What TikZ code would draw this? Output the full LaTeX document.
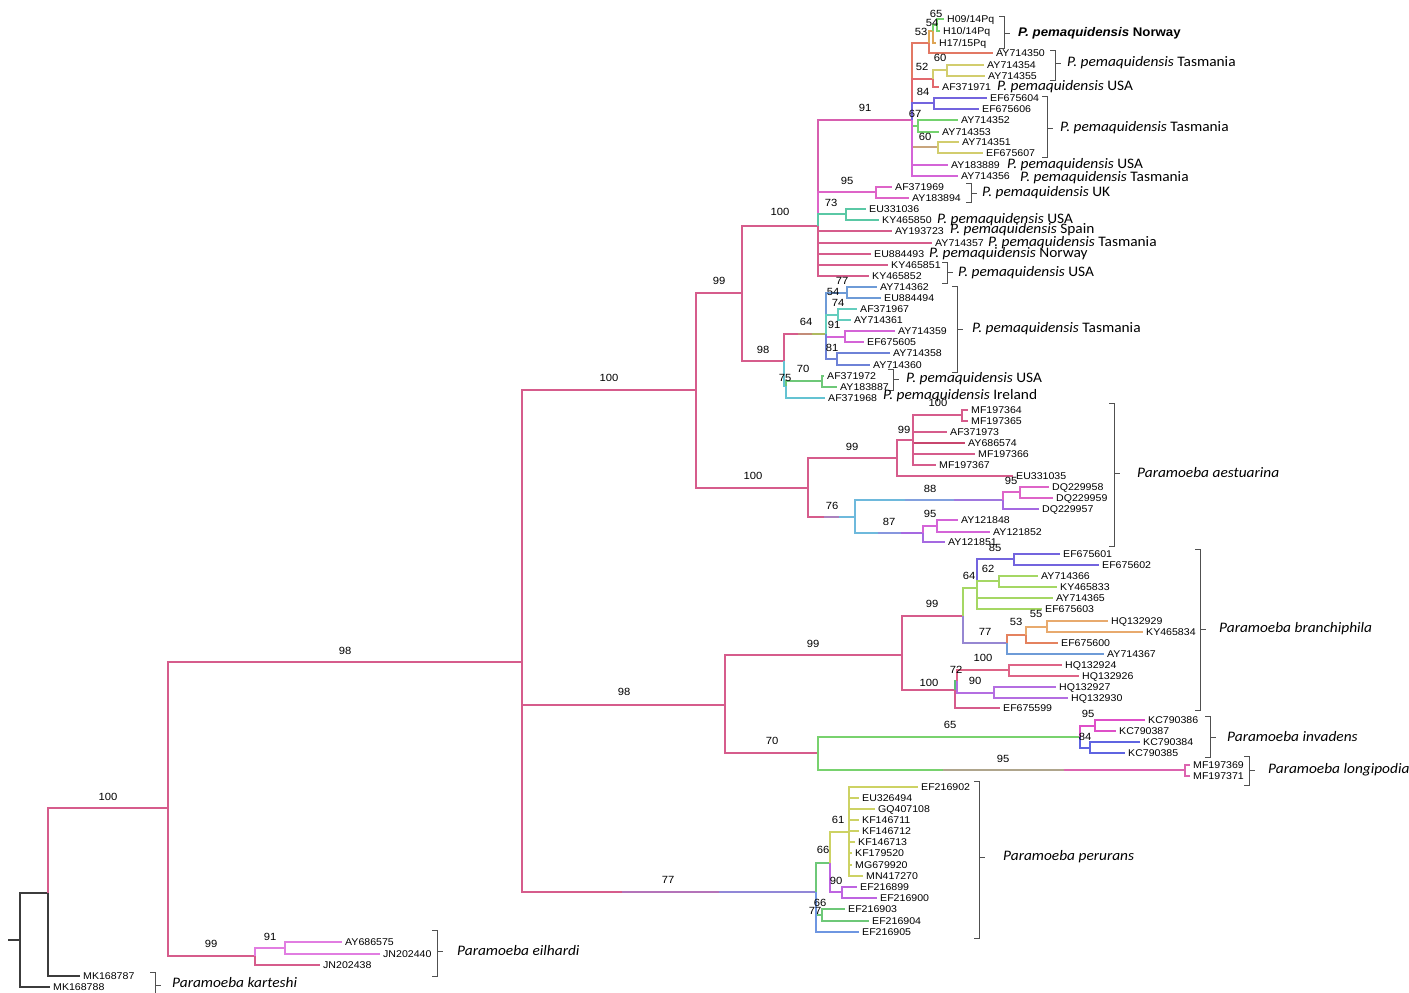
\documentclass[tikz,border=0pt]{standalone}
\usepackage{fontspec}
\setmainfont{Liberation Sans}
\newfontfamily\accf[FakeStretch=1.08]{Liberation Sans}
\newfontfamily\spf[FakeStretch=1.06]{Carlito}
\newfontfamily\bldf[FakeStretch=1.06]{Liberation Sans}
\usetikzlibrary{calc}
\definecolor{cpk}{RGB}{214,92,140}
\definecolor{crt}{RGB}{60,60,60}
\definecolor{cmg}{RGB}{225,125,225}
\definecolor{cmpk}{RGB}{215,95,175}
\definecolor{cmgp}{RGB}{222,100,200}
\definecolor{ctl}{RGB}{90,200,165}
\definecolor{corr}{RGB}{226,120,100}
\definecolor{csal}{RGB}{226,105,110}
\definecolor{cpu}{RGB}{115,100,222}
\definecolor{cgr}{RGB}{115,210,110}
\definecolor{ctan}{RGB}{200,165,125}
\definecolor{cmg2}{RGB}{212,100,215}
\definecolor{coy}{RGB}{222,165,85}
\definecolor{cyl}{RGB}{210,205,110}
\definecolor{c64a}{RGB}{195,140,120}
\definecolor{c64b}{RGB}{175,185,95}
\definecolor{ccy}{RGB}{100,195,210}
\definecolor{clb}{RGB}{110,155,215}
\definecolor{ctl2}{RGB}{100,205,190}
\definecolor{csb}{RGB}{110,130,215}
\definecolor{cgn2}{RGB}{110,200,120}
\definecolor{c76b}{RGB}{170,130,190}
\definecolor{ccy2}{RGB}{110,185,220}
\definecolor{c88b}{RGB}{130,160,222}
\definecolor{c88c}{RGB}{160,120,222}
\definecolor{c87b}{RGB}{135,150,222}
\definecolor{cpu2}{RGB}{165,105,225}
\definecolor{clg}{RGB}{165,215,100}
\definecolor{c77br}{RGB}{150,135,210}
\definecolor{cor2}{RGB}{228,130,95}
\definecolor{cor3}{RGB}{232,170,110}
\definecolor{cgn3}{RGB}{90,190,120}
\definecolor{cpk2}{RGB}{222,100,135}
\definecolor{cpu3}{RGB}{180,110,225}
\definecolor{cgn}{RGB}{120,210,110}
\definecolor{c95b}{RGB}{175,165,140}
\definecolor{cpk3}{RGB}{220,100,175}
\definecolor{cmg3}{RGB}{222,80,200}
\definecolor{cbl}{RGB}{95,100,225}
\definecolor{cbl2}{RGB}{110,150,225}
\definecolor{c77pa}{RGB}{180,115,185}
\definecolor{c77pb}{RGB}{145,135,215}
\definecolor{cyl2}{RGB}{205,210,100}
\definecolor{cpu4}{RGB}{190,100,225}
\definecolor{cpkd}{RGB}{200,70,110}
\definecolor{cbrk}{RGB}{80,80,80}
\newcommand\lf[6]{\node[leaf] (#3) at (#4,#5) {#6};\draw[br,#1] (#2) |- (#3.west);}
\newcommand\cn[5]{\coordinate (#3) at (#4,#5);\draw[br,#1] (#2) |- (#3);}
\newcommand\gcn[7]{%
 \coordinate (#5) at (#6,#7);
 \coordinate (#5-a) at ($(#4 |- #5)!0.34!(#5)$);
 \coordinate (#5-b) at ($(#4 |- #5)!0.67!(#5)$);
 \draw[br,#1] (#4) |- (#5-a);
 \draw[br,#2] (#5-a) -- (#5-b);
 \draw[br,#3] (#5-b) -- (#5);}
\newcounter{bsn}
\newcommand\bs[3]{\stepcounter{bsn}\node[boot] (bs\thebsn) at (#1,#2) {#3};}
\newcounter{spn}
\newcommand\spl[3]{\stepcounter{spn}\node[spec] (sp\thespn) at (#1,#2) {#3};}
\newcommand\brak[4]{\draw[brk] (#1-5,#2) -- (#1,#2) -- (#1,#3) -- (#1-5,#3); \draw[brk] (#1,#4) -- (#1+6,#4);}
\newcommand\pp{\textit{P. pemaquidensis}}
\begin{document}
\begin{tikzpicture}[x=1pt,y=-1pt,
 br/.style={line width=1.2pt},
 leaf/.style={anchor=west, inner xsep=3pt, inner ysep=0pt, text height=7pt, text depth=0pt, font=\accf\fontsize{9.8}{10}\selectfont},
 boot/.style={inner sep=0pt, font=\accf\fontsize{10.4}{11}\selectfont},
 spec/.style={anchor=west, inner sep=0pt, font=\spf\fontsize{14.5}{15}\selectfont},
 brk/.style={draw=cbrk, line width=0.9pt}]
\useasboundingbox (0,0) rectangle (1409,993);
% root
\coordinate (stub) at (8,940);
\coordinate (r) at (20,940);
\draw[br,crt] (stub) -- (r);
\cn{crt}{r}{nA}{48}{893}
\lf{crt}{r}{mk88}{50}{987}{MK168788}
\cn{cpk}{nA}{n100a}{168}{808}
\lf{crt}{nA}{mk87}{80}{976}{MK168787}
% eilhardi
\cn{cpk}{n100a}{n99e}{255}{956}
\cn{cmg}{n99e}{n91e}{285}{948}
\lf{cmg}{n91e}{AY686575}{342}{942}{AY686575}
\lf{cmg}{n91e}{JN202440}{380}{954}{JN202440}
\lf{cpk}{n99e}{JN202438}{320}{965}{JN202438}
% backbone
\cn{cpk}{n100a}{n98a}{522}{662}
\cn{cpk}{n98a}{n100b}{696}{390}
\cn{cpk}{n98a}{n98b}{725}{705}
\gcn{cpk}{c77pa}{c77pb}{n98a}{n77p}{816}{892}
\cn{cpk}{n100b}{n99b}{742}{293}
\cn{cpk}{n100b}{n100ae}{808}{488}
\cn{cpk}{n99b}{n100c}{818}{226}
\cn{cpk}{n99b}{n98c}{784}{361}
% pemaquidensis big polytomy
\cn{cmpk}{n100c}{n91}{912}{120}
\cn{cmgp}{n100c}{n95uk}{876}{192}
\cn{ctl}{n100c}{n73}{846}{214}
\lf{cpk}{n100c}{AY193723}{892}{231}{AY193723}
\lf{cpk}{n100c}{AY714357}{932}{243}{AY714357}
\lf{cpk}{n100c}{EU884493}{871}{254}{EU884493}
\lf{cpk}{n100c}{KY465851}{888}{265}{KY465851}
\lf{cpk}{n100c}{KY465852}{869}{276}{KY465852}
\cn{corr}{n91}{n53}{929}{43}
\cn{csal}{n91}{n52}{933}{79}
\cn{cpu}{n91}{n84}{934}{103}
\cn{cgr}{n91}{n67}{918}{126}
\cn{ctan}{n91}{n60b}{938}{147}
\lf{cmg2}{n91}{AY183889}{948}{165}{AY183889}
\lf{cmg2}{n91}{AY714356}{958}{176}{AY714356}
\cn{coy}{n53}{n54}{933}{31}
\lf{corr}{n53}{AY714350}{993}{53}{AY714350}
\cn{cgr}{n54}{n65}{937}{25}
\lf{coy}{n54}{H17}{936}{43}{H17/15Pq}
\lf{cgr}{n65}{H09}{944}{19}{H09/14Pq}
\lf{cgr}{n65}{H10}{940}{31}{H10/14Pq}
\cn{cyl}{n52}{n60a}{947}{70}
\lf{csal}{n52}{AF371971}{939}{87}{AF371971}
\lf{cyl}{n60a}{AY714354}{984}{65}{AY714354}
\lf{cyl}{n60a}{AY714355}{985}{76}{AY714355}
\lf{cpu}{n84}{EF675604}{987}{98}{EF675604}
\lf{cpu}{n84}{EF675606}{979}{109}{EF675606}
\lf{cgr}{n67}{AY714352}{958}{120}{AY714352}
\lf{cgr}{n67}{AY714353}{939}{132}{AY714353}
\lf{cyl}{n60b}{AY714351}{959}{142}{AY714351}
\lf{cyl}{n60b}{EF675607}{983}{153}{EF675607}
\lf{cmgp}{n95uk}{AF371969}{892}{187}{AF371969}
\lf{cmgp}{n95uk}{AY183894}{909}{198}{AY183894}
\lf{ctl}{n73}{EU331036}{866}{209}{EU331036}
\lf{ctl}{n73}{KY465850}{879}{220}{KY465850}
% 98 clade
\gcn{cpk}{c64a}{c64b}{n98c}{n64}{826}{334}
\cn{ccy}{n98c}{n75}{786}{386}
\cn{clb}{n64}{n77b}{847}{293}
\cn{ctl2}{n64}{n91b}{838}{315}
\cn{cmg2}{n64}{nAY59}{845}{337}
\cn{csb}{n64}{n81}{837}{359}
\lf{clb}{n77b}{AY714362}{877}{287}{AY714362}
\lf{clb}{n77b}{EU884494}{881}{298}{EU884494}
\lf{ctl2}{n91b}{AF371967}{857}{309}{AF371967}
\lf{ctl2}{n91b}{AY714361}{851}{320}{AY714361}
\lf{cmg2}{nAY59}{AY714359}{895}{331}{AY714359}
\lf{cmg2}{nAY59}{EF675605}{864}{342}{EF675605}
\lf{csb}{n81}{AY714358}{890}{353}{AY714358}
\lf{csb}{n81}{AY714360}{870}{365}{AY714360}
\cn{cgn2}{n75}{n70}{822}{381}
\lf{ccy}{n75}{AF371968}{825}{398}{AF371968}
\lf{cgn2}{n70}{AF371972}{824}{376}{AF371972}
\lf{cgn2}{n70}{AY183887}{837}{387}{AY183887}
% aestuarina
\cn{cpk}{n100ae}{n99ae}{897}{458}
\gcn{cpk}{c76b}{ccy2}{n100ae}{n76}{855}{517}
\cn{cpk}{n99ae}{n99in}{913}{440}
\lf{cpk}{n99ae}{EU331035}{1013}{476}{EU331035}
\cn{cpk}{n99in}{n100m}{962}{415}
\lf{cpk}{n99in}{AF371973}{947}{432}{AF371973}
\lf{cpkd}{n99in}{AY686574}{965}{443}{AY686574}
\lf{cpk}{n99in}{MF197366}{975}{454}{MF197366}
\lf{cpk}{n99in}{MF197367}{936}{465}{MF197367}
\lf{cpk}{n100m}{MF197364}{968}{410}{MF197364}
\lf{cpk}{n100m}{MF197365}{968}{421}{MF197365}
\gcn{ccy2}{c88b}{c88c}{n76}{n88}{1003}{500}
\gcn{ccy2}{c87b}{cpu2}{n76}{n87}{923}{533}
\cn{cmgp}{n88}{n95dq}{1020}{492}
\lf{cpu2}{n88}{DQ229957}{1039}{509}{DQ229957}
\lf{cmgp}{n95dq}{DQ229958}{1049}{487}{DQ229958}
\lf{cmgp}{n95dq}{DQ229959}{1053}{498}{DQ229959}
\cn{cmg2}{n87}{n95ay}{937}{526}
\lf{cpu2}{n87}{AY121851}{945}{542}{AY121851}
\lf{cmg2}{n95ay}{AY121848}{958}{520}{AY121848}
\lf{cmg2}{n95ay}{AY121852}{990}{532}{AY121852}
% branchiphila
\cn{cpk}{n98b}{n99br}{902}{655}
\cn{cpk}{n98b}{n70i}{818}{753}
\cn{cpk}{n99br}{n99bi}{963}{616}
\cn{cpk}{n99br}{n100br}{955}{690}
\cn{clg}{n99bi}{n64br}{977}{588}
\cn{c77br}{n99bi}{n77br}{1007}{643}
\cn{cpu}{n64br}{n85}{1014}{559}
\cn{clg}{n64br}{n62}{999}{581}
\lf{clg}{n64br}{AY714365}{1053}{598}{AY714365}
\lf{clg}{n64br}{EF675603}{1042}{609}{EF675603}
\lf{cpu}{n85}{EF675601}{1060}{554}{EF675601}
\lf{cpu}{n85}{EF675602}{1099}{565}{EF675602}
\lf{clg}{n62}{AY714366}{1038}{576}{AY714366}
\lf{clg}{n62}{KY465833}{1057}{587}{KY465833}
\cn{cor2}{n77br}{n53br}{1026}{635}
\lf{clb}{n77br}{AY714367}{1104}{654}{AY714367}
\cn{cor3}{n53br}{n55}{1047}{627}
\lf{cor2}{n53br}{EF675600}{1058}{643}{EF675600}
\lf{cor3}{n55}{HQ132929}{1108}{621}{HQ132929}
\lf{cor3}{n55}{KY465834}{1143}{632}{KY465834}
\cn{cgn3}{n100br}{n72}{957}{681}
\lf{cpk}{n100br}{EF675599}{1000}{708}{EF675599}
\cn{cpk2}{n72}{n100hq}{1009}{670}
\cn{cpu3}{n72}{n90hq}{994}{693}
\lf{cpk2}{n100hq}{HQ132924}{1062}{665}{HQ132924}
\lf{cpk2}{n100hq}{HQ132926}{1079}{676}{HQ132926}
\lf{cpu3}{n90hq}{HQ132927}{1056}{687}{HQ132927}
\lf{cpu3}{n90hq}{HQ132930}{1068}{698}{HQ132930}
% invadens / longipodia
\cn{cgn}{n70i}{n65i}{1080}{737}
\gcn{cgn}{c95b}{cpk3}{n70i}{n95lp}{1185}{770}
\cn{cmg3}{n65i}{n95kc}{1095}{726}
\cn{cbl}{n65i}{nkcb}{1090}{748}
\lf{cmg3}{n95kc}{KC790386}{1145}{720}{KC790386}
\lf{cmg3}{n95kc}{KC790387}{1116}{731}{KC790387}
\lf{cbl}{nkcb}{KC790384}{1140}{742}{KC790384}
\lf{cbl}{nkcb}{KC790385}{1125}{753}{KC790385}
\lf{cpk3}{n95lp}{MF197369}{1190}{765}{MF197369}
\lf{cpk3}{n95lp}{MF197371}{1190}{776}{MF197371}
% perurans
\cn{cgn2}{n77p}{n66p}{830}{863}
\cn{cgn2}{n77p}{n66b}{822}{915}
\lf{cbl2}{n77p}{EF216905}{859}{932}{EF216905}
\cn{cyl2}{n66p}{n61}{849}{832}
\cn{cpu4}{n66p}{n90p}{842}{892}
\lf{cyl2}{n61}{EF216902}{918}{787}{EF216902}
\lf{cyl2}{n61}{EU326494}{859}{798}{EU326494}
\lf{cyl2}{n61}{GQ407108}{875}{809}{GQ407108}
\lf{cyl2}{n61}{KF146711}{859}{820}{KF146711}
\lf{cyl2}{n61}{KF146712}{859}{831}{KF146712}
\lf{cyl2}{n61}{KF146713}{855}{842}{KF146713}
\lf{cyl2}{n61}{KF179520}{852}{853}{KF179520}
\lf{cyl2}{n61}{MG679920}{852}{865}{MG679920}
\lf{cyl2}{n61}{MN417270}{863}{876}{MN417270}
\lf{cpu4}{n90p}{EF216899}{857}{887}{EF216899}
\lf{cpu4}{n90p}{EF216900}{877}{898}{EF216900}
\lf{cgn2}{n66b}{EF216903}{845}{909}{EF216903}
\lf{cgn2}{n66b}{EF216904}{869}{921}{EF216904}
% bootstrap values
\bs{108}{797}{100}
\bs{345}{651}{98}
\bs{211}{944}{99}
\bs{270}{937}{91}
\bs{609}{378}{100}
\bs{624}{692}{98}
\bs{668}{880}{77}
\bs{719}{281}{99}
\bs{753}{476}{100}
\bs{780}{212}{100}
\bs{763}{350}{98}
\bs{865}{108}{91}
\bs{847}{181}{95}
\bs{831}{203}{73}
\bs{936}{14}{65}
\bs{932}{23}{54}
\bs{921}{32}{53}
\bs{940}{58}{60}
\bs{922}{67}{52}
\bs{923}{92}{84}
\bs{915}{114}{67}
\bs{925}{137}{60}
\bs{842}{281}{77}
\bs{833}{292}{54}
\bs{838}{303}{74}
\bs{834}{325}{91}
\bs{806}{322}{64}
\bs{832}{348}{81}
\bs{803}{369}{70}
\bs{785}{378}{75}
\bs{938}{403}{100}
\bs{904}{430}{99}
\bs{852}{447}{99}
\bs{1011}{481}{95}
\bs{930}{489}{88}
\bs{832}{506}{76}
\bs{930}{514}{95}
\bs{889}{522}{87}
\bs{995}{548}{85}
\bs{969}{576}{64}
\bs{988}{569}{62}
\bs{932}{604}{99}
\bs{1036}{614}{55}
\bs{1016}{622}{53}
\bs{985}{632}{77}
\bs{813}{644}{99}
\bs{983}{658}{100}
\bs{956}{670}{72}
\bs{929}{683}{100}
\bs{975}{681}{90}
\bs{1088}{714}{95}
\bs{950}{725}{65}
\bs{1085}{737}{84}
\bs{772}{741}{70}
\bs{1003}{759}{95}
\bs{838}{820}{61}
\bs{823}{850}{66}
\bs{836}{881}{90}
\bs{820}{903}{66}
\bs{815}{911}{77}
% brackets and species labels
\brak{1004}{16}{48}{33}
\node[spec,font=\bldf\bfseries\fontsize{12.5}{13}\selectfont] (spN) at (1018,33) {\textit{P. pemaquidensis} Norway};
\brak{1055}{50}{80}{63}\spl{1067}{63}{\pp{} Tasmania}
\spl{997}{87}{\pp{} USA}
\brak{1047}{96}{157}{128}\spl{1060}{128}{\pp{} Tasmania}
\spl{1007}{165}{\pp{} USA}
\spl{1020}{178}{\pp{} Tasmania}
\brak{971}{183}{202}{193}\spl{982}{193}{\pp{} UK}
\spl{937}{220}{\pp{} USA}
\spl{950}{230}{\pp{} Spain}
\spl{988}{243}{\pp{} Tasmania}
\spl{929}{254}{\pp{} Norway}
\brak{947}{262}{283}{272}\spl{958}{273}{\pp{} USA}
\brak{957}{286}{372}{329}\spl{972}{329}{\pp{} Tasmania}
\brak{893}{369}{390}{379}\spl{906}{379}{\pp{} USA}
\spl{883}{396}{\pp{} Ireland}
\brak{1114}{403}{546}{473}\spl{1137}{473}{\textit{Paramoeba aestuarina}}
\brak{1200}{549}{710}{629}\spl{1219}{629}{\textit{Paramoeba branchiphila}}
\brak{1210}{716}{757}{737}\spl{1227}{737}{\textit{Paramoeba invadens}}
\brak{1249}{756}{785}{770}\spl{1268}{770}{\textit{Paramoeba longipodia}}
\brak{979}{781}{938}{857}\spl{1003}{857}{\textit{Paramoeba perurans}}
\brak{437}{930}{976}{951}\spl{457}{951}{\textit{Paramoeba eilhardi}}
\brak{155}{972}{998}{985}\spl{172}{983}{\textit{Paramoeba karteshi}}
\end{tikzpicture}
\end{document}
